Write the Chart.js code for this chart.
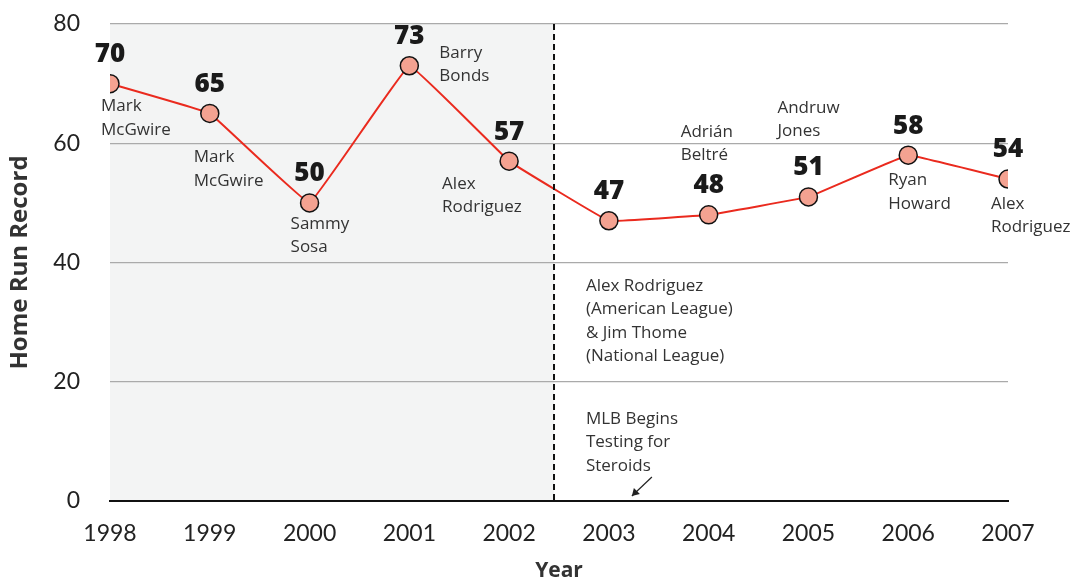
<!DOCTYPE html>
<html>
<head>
<meta charset="utf-8">
<script src="https://cdn.jsdelivr.net/npm/chart.js@4"></script>
<style>
  html, body { margin: 0; padding: 0; background: #fff; }
  #wrap { width: 1079px; height: 584px; }
</style>
</head>
<body>
<div id="wrap"><canvas id="hrChart" width="1079" height="584"></canvas></div>
<script>
// データ
const years = [1998, 1999, 2000, 2001, 2002, 2003, 2004, 2005, 2006, 2007];
const homeRuns = [70, 65, 50, 73, 57, 47, 48, 51, 58, 54];
const playerNames = [
    ['Mark', 'McGwire'],
    ['Mark', 'McGwire'],
    ['Sammy', 'Sosa'],
    ['Barry', 'Bonds'],
    ['Alex', 'Rodriguez'],
    ['Alex Rodriguez', '(American League)', '& Jim Thome', '(National League)'],
    ['Adrián', 'Beltré'],
    ['Andruw', 'Jones'],
    ['Ryan', 'Howard'],
    ['Alex', 'Rodriguez']
];
const yTicks = [0, 20, 40, 60, 80];
const testingStart = 2002.45;
const testingNote = ['MLB Begins', 'Testing for', 'Steroids'];

// ラベルの位置 (点からのずれ)
const namePos = [
    [-9, 23], [-16, 44], [-19, 21], [30, -13], [-67, 23],
    [-23, 65], [-28, -83], [-31, -89], [-20, 25], [-17, 25]
];
const numberDy = -29;

const FONT = '"Open Sans", Lato, sans-serif';

const annotationPlugin = {
    id: 'annotations',
    beforeDraw(chart) {
        const { ctx, chartArea, scales } = chart;
        const x0 = scales.x.getPixelForValue(years[0]);
        const x1 = scales.x.getPixelForValue(testingStart);
        ctx.save();
        ctx.fillStyle = '#f3f4f4';
        ctx.fillRect(x0, chartArea.top, x1 - x0, chartArea.bottom - chartArea.top);
        ctx.restore();
    },
    afterDatasetsDraw(chart) {
        const { ctx, chartArea, scales } = chart;
        const xs = scales.x, ys = scales.y;
        ctx.save();

        // 破線
        const xd = xs.getPixelForValue(testingStart);
        ctx.strokeStyle = '#111';
        ctx.lineWidth = 2;
        ctx.setLineDash([6, 4]);
        ctx.beginPath();
        ctx.moveTo(xd, chartArea.top);
        ctx.lineTo(xd, chartArea.bottom);
        ctx.stroke();
        ctx.setLineDash([]);

        // 数値と選手名
        homeRuns.forEach((v, i) => {
            const px = xs.getPixelForValue(years[i]);
            const py = ys.getPixelForValue(v);
            ctx.fillStyle = '#1a1a1a';
            ctx.font = '800 26px ' + FONT;
            ctx.textAlign = 'center';
            ctx.textBaseline = 'middle';
            ctx.fillText(String(v), px, py + numberDy);

            ctx.fillStyle = '#333';
            ctx.font = '17px ' + FONT;
            ctx.textAlign = 'left';
            playerNames[i].forEach((line, j) => {
                ctx.fillText(line, px + namePos[i][0], py + namePos[i][1] + j * 23.5);
            });
        });

        // 注記と矢印
        const nx = xs.getPixelForValue(2003) - 23;
        const ny = ys.getPixelForValue(0) - 82;
        testingNote.forEach((line, j) => {
            ctx.fillText(line, nx, ny + j * 23.5);
        });
        const ax = xs.getPixelForValue(2003) + 43, ay = ys.getPixelForValue(0) - 24;
        const bx = xs.getPixelForValue(2003) + 23, by = ys.getPixelForValue(0) - 5;
        ctx.strokeStyle = '#222';
        ctx.lineWidth = 1.2;
        ctx.beginPath();
        ctx.moveTo(ax, ay);
        ctx.lineTo(bx, by);
        ctx.stroke();
        ctx.fillStyle = '#222';
        ctx.beginPath();
        ctx.moveTo(bx, by);
        ctx.lineTo(bx + 2, by - 8);
        ctx.lineTo(bx + 8, by - 2);
        ctx.closePath();
        ctx.fill();
        ctx.restore();
    }
};

const ctx = document.getElementById('hrChart').getContext('2d');
const hrChart = new Chart(ctx, {
    type: 'line',
    data: {
        datasets: [{
            data: years.map((y, i) => ({ x: y, y: homeRuns[i] })),
            borderColor: '#ea2a1e',
            borderWidth: 2,
            tension: 0.05,
            pointRadius: 9,
            pointBackgroundColor: '#f4a291',
            pointBorderColor: '#111',
            pointBorderWidth: 1.5
        }]
    },
    options: {
        responsive: false,
        animation: false,
        layout: { padding: { top: 24, right: 71, left: 6, bottom: 0 } },
        plugins: { legend: { display: false }, tooltip: { enabled: false } },
        scales: {
            x: {
                type: 'linear',
                min: years[0],
                max: years[years.length - 1],
                afterBuildTicks: (s) => { s.ticks = years.map(v => ({ value: v })); },
                afterFit: (s) => { s.height = 83; },
                grid: { display: false, drawTicks: false },
                border: { display: true, color: '#111', width: 2 },
                ticks: {
                    padding: 19,
                    color: '#222',
                    font: { family: 'Lato, sans-serif', size: 23 },
                    callback: (v) => String(v)
                },
                title: {
                    display: true,
                    text: 'Year',
                    color: '#333',
                    font: { family: FONT, size: 21, weight: 'bold' },
                    padding: { top: 2, bottom: 0 }
                }
            },
            y: {
                min: 0,
                max: 80,
                afterBuildTicks: (s) => { s.ticks = yTicks.map(v => ({ value: v })); },
                afterFit: (s) => { s.width = 104; s.paddingTop = 0; s.paddingBottom = 0; },
                grid: {
                    drawTicks: false,
                    color: (c) => c.tick && c.tick.value === 0 ? 'rgba(0,0,0,0)' : '#aaa',
                    lineWidth: 1.2
                },
                border: { display: false },
                ticks: {
                    padding: 30,
                    color: '#222',
                    font: { family: 'Lato, sans-serif', size: 23 }
                },
                title: {
                    display: true,
                    text: 'Home Run Record',
                    color: '#333',
                    font: { family: FONT, size: 24, weight: 'bold' },
                    padding: { top: 0, bottom: 0 }
                }
            }
        }
    },
    plugins: [annotationPlugin]
});
</script>
</body>
</html>
